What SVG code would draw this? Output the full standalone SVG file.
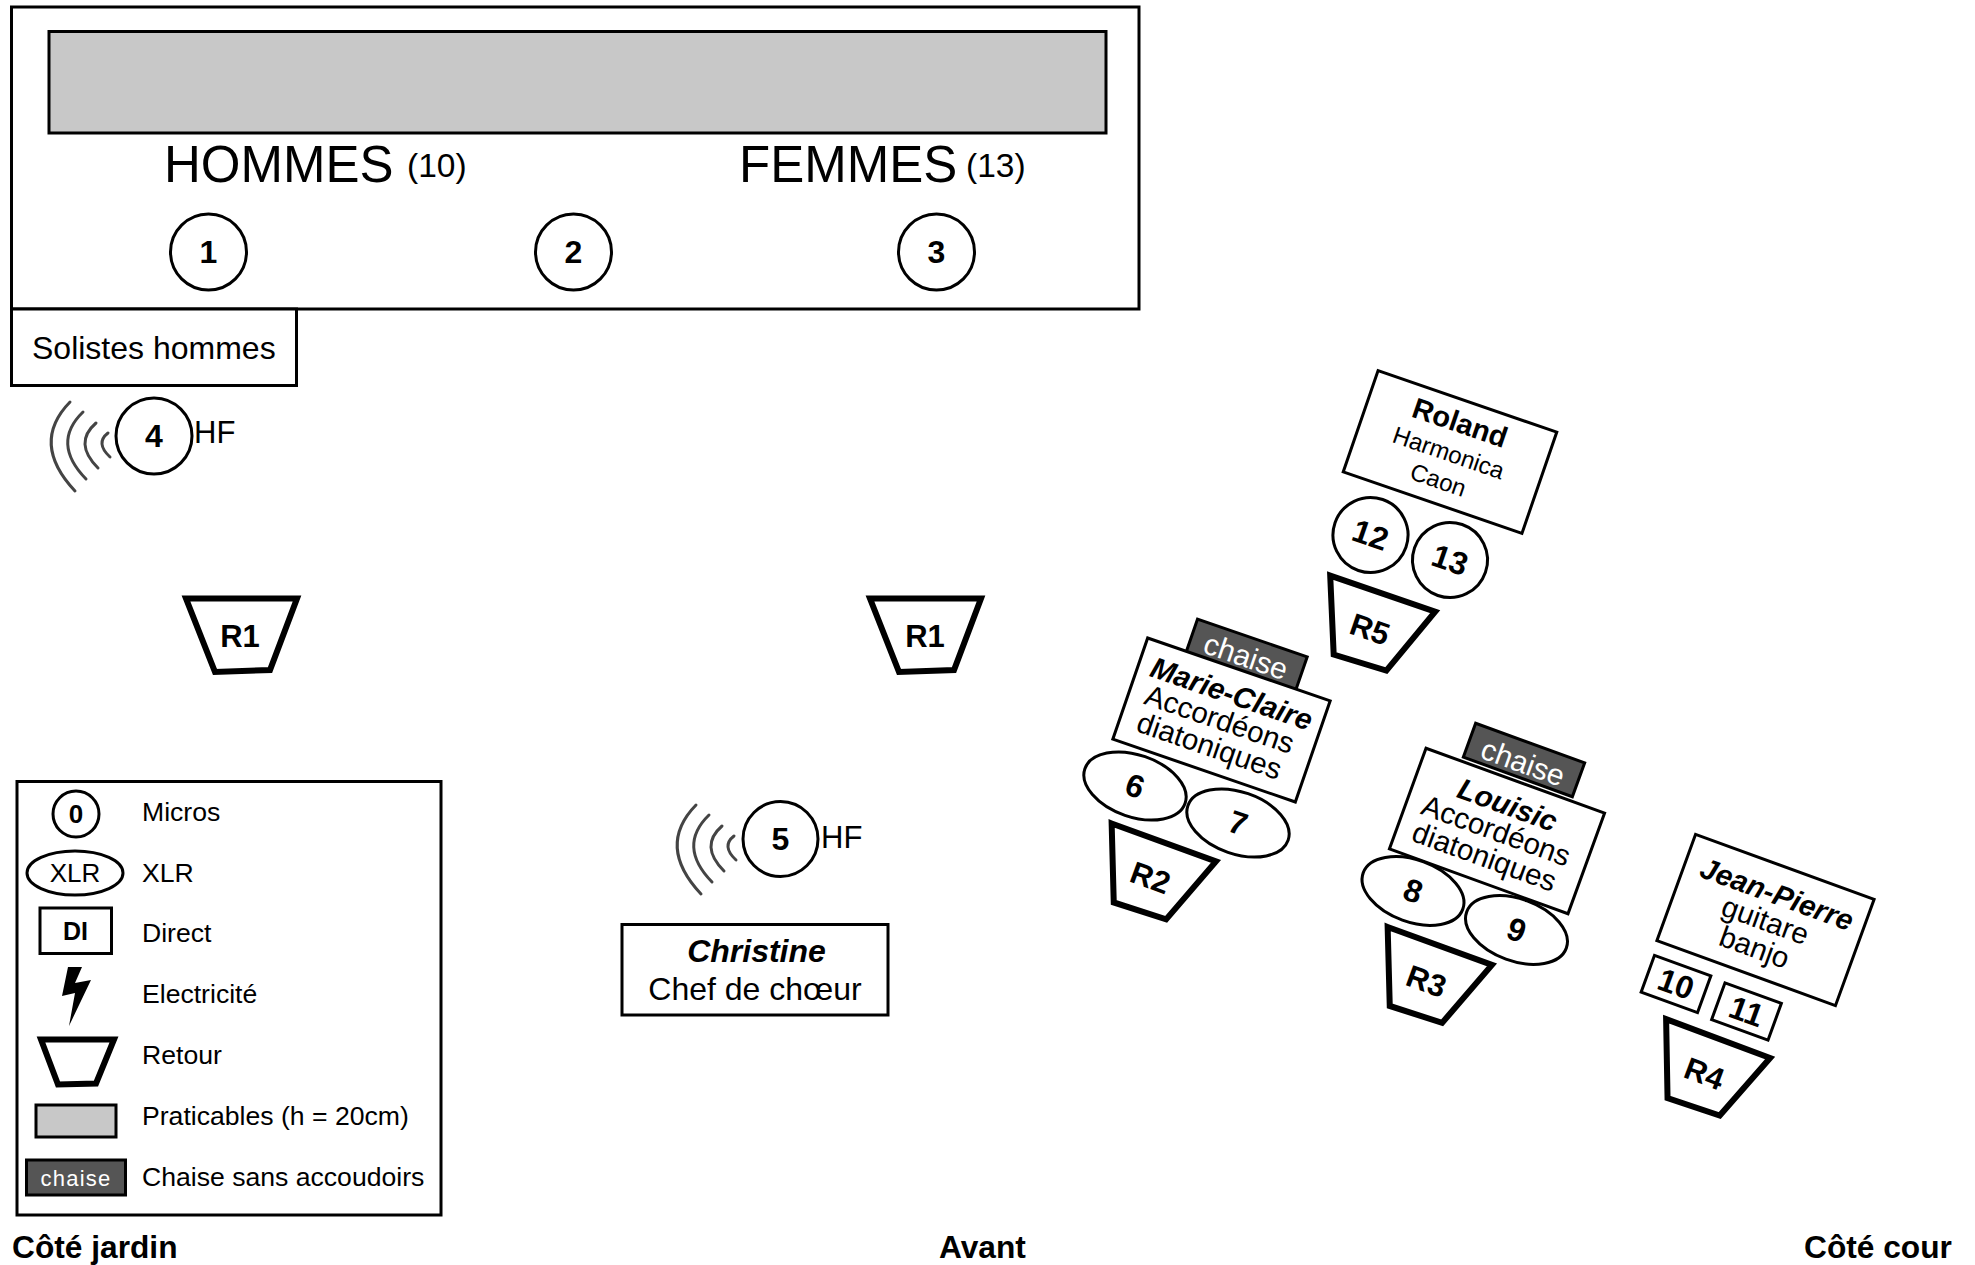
<svg xmlns="http://www.w3.org/2000/svg" xmlns:xlink="http://www.w3.org/1999/xlink" width="1975" height="1265" viewBox="0 0 1975 1265">
<style>
text{font-family:"Liberation Sans",Arial,sans-serif;fill:#000}
.n{font-size:32px;font-weight:bold;text-anchor:middle}
.rt{font-size:31px;font-weight:bold;text-anchor:middle}
.bi{font-size:29.500px;font-weight:bold;font-style:italic;text-anchor:middle}
.c{font-size:29.500px;text-anchor:middle}
.b24{font-size:24px;text-anchor:middle}
.l{font-size:26.600px}
.h{font-size:31px}
.foot{font-size:31.700px;font-weight:bold}
.s{fill:#fff;stroke:#000;stroke-width:3}
.g{fill:#c8c8c8;stroke:#000;stroke-width:3}
.d{fill:#555;stroke:#000;stroke-width:3}
.w{fill:#fff;font-size:30px;text-anchor:middle}
.r{fill:#fff;stroke:#000;stroke-width:6;stroke-linejoin:miter}
.a{fill:none;stroke:#444;stroke-width:3;stroke-linecap:round}
</style>
<defs>
<g id="waves">
<path class="a" d="M-84,-34Q-124,7 -79,55"/>
<path class="a" d="M-71,-24Q-103,7 -68,43"/>
<path class="a" d="M-58,-13Q-81,7 -56,32"/>
<path class="a" d="M-46,-3Q-59,7 -44,21"/>
</g>
<polygon id="ret" class="r" points="-55,-37.500 56,-37.500 29,34 -26,36"/>
</defs>

<g id="stage">
<rect class="s" x="11.500" y="7" width="1127.500" height="302"/>
<rect class="g" x="49" y="31.500" width="1057" height="101.500"/>
<text x="164" y="182" font-size="51">HOMMES</text>
<text x="407" y="176.500" font-size="33.500">(10)</text>
<text x="739" y="182" font-size="51">FEMMES</text>
<text x="966" y="176.500" font-size="33.500">(13)</text>
</g>
<g id="mic1"><circle class="s" cx="208.500" cy="252" r="38"/><text class="n" x="208.500" y="263">1</text></g>
<g id="mic2"><circle class="s" cx="573.500" cy="252" r="38"/><text class="n" x="573.500" y="263">2</text></g>
<g id="mic3"><circle class="s" cx="936.500" cy="252" r="38"/><text class="n" x="936.500" y="263">3</text></g>

<g id="solistes">
<rect class="s" x="11.500" y="309" width="285" height="76.500"/>
<text x="32" y="359" font-size="32">Solistes hommes</text>
</g>

<g id="mic4">
<use xlink:href="#waves" href="#waves" x="154" y="436"/>
<circle class="s" cx="154" cy="436" r="38"/>
<text class="n" x="154" y="447">4</text>
<text class="h" x="194" y="443">HF</text>
</g>

<g id="r1-left"><use xlink:href="#ret" href="#ret" x="241" y="636"/><text class="rt" x="240" y="647">R1</text></g>
<g id="r1-right"><use xlink:href="#ret" href="#ret" x="925" y="636"/><text class="rt" x="925" y="647">R1</text></g>

<g id="mic5">
<use xlink:href="#waves" href="#waves" x="780" y="839"/>
<circle class="s" cx="780.500" cy="839" r="37.500"/>
<text class="n" x="780.500" y="850">5</text>
<text class="h" x="821" y="848">HF</text>
</g>

<g id="christine">
<rect class="s" x="622" y="924.500" width="266" height="90.500"/>
<text x="756.500" y="962" font-size="32" font-weight="bold" font-style="italic" text-anchor="middle">Christine</text>
<text x="755" y="999.500" font-size="32" text-anchor="middle">Chef de chœur</text>
</g>

<g id="roland" transform="translate(1450 452) rotate(19)">
<rect class="s" x="-94.500" y="-53.500" width="189" height="107"/>
<text x="0" y="-21" font-size="29" font-weight="bold" text-anchor="middle">Roland</text>
<text class="b24" x="-1" y="9.500">Harmonica</text>
<text class="b24" x="-2" y="38.500">Caon</text>
</g>
<g id="mic12" transform="translate(1370.500 535) rotate(19)"><circle class="s" r="37.500"/><text class="n" y="11">12</text></g>
<g id="mic13" transform="translate(1450 560) rotate(19)"><circle class="s" r="37.500"/><text class="n" y="11">13</text></g>
<g id="r5" transform="translate(1370 629) rotate(19)"><use xlink:href="#ret" href="#ret"/><text class="rt" y="11">R5</text></g>

<g id="chaise-mc" transform="translate(1246.500 655) rotate(19)">
<rect class="d" x="-58" y="-18" width="116" height="36"/>
<text class="w" y="12">chaise</text>
</g>
<g id="marie-claire" transform="translate(1221.500 720) rotate(19)">
<rect class="s" x="-96.500" y="-53.500" width="193" height="107"/>
<text class="bi" x="1" y="-18">Marie-Claire</text>
<text class="c" x="-2" y="10">Accordéons</text>
<text class="c" x="-3" y="38.500">diatoniques</text>
</g>
<g id="xlr6" transform="translate(1135 786) rotate(19)"><ellipse class="s" rx="53" ry="31"/><text class="n" y="11">6</text></g>
<g id="xlr7" transform="translate(1238 823) rotate(19)"><ellipse class="s" rx="53" ry="31"/><text class="n" y="11">7</text></g>
<g id="r2" transform="translate(1150.500 877.500) rotate(20)"><use xlink:href="#ret" href="#ret"/><text class="rt" y="11">R2</text></g>

<g id="chaise-l" transform="translate(1524 760) rotate(20)">
<rect class="d" x="-58" y="-18" width="116" height="36"/>
<text class="w" y="13">chaise</text>
</g>
<g id="louisic" transform="translate(1497 831) rotate(20)">
<rect class="s" x="-95" y="-53.500" width="190" height="107"/>
<text class="bi" x="1" y="-18">Louisic</text>
<text class="c" x="-1" y="10">Accordéons</text>
<text class="c" x="-3" y="38.500">diatoniques</text>
</g>
<g id="xlr8" transform="translate(1413 891) rotate(20)"><ellipse class="s" rx="53" ry="31"/><text class="n" y="11">8</text></g>
<g id="xlr9" transform="translate(1516.500 930) rotate(20)"><ellipse class="s" rx="53" ry="31"/><text class="n" y="11">9</text></g>
<g id="r3" transform="translate(1426.500 981) rotate(20)"><use xlink:href="#ret" href="#ret"/><text class="rt" y="11">R3</text></g>

<g id="jean-pierre" transform="translate(1765.500 920) rotate(20)">
<rect class="s" x="-95" y="-56.500" width="190" height="113"/>
<text class="bi" x="2" y="-18">Jean-Pierre</text>
<text class="c" x="0" y="10.500">guitare</text>
<text class="c" x="-1" y="39.500">banjo</text>
</g>
<g id="di10" transform="translate(1676 984) rotate(20)"><rect class="s" x="-30" y="-19.500" width="60" height="39"/><text class="n" y="11">10</text></g>
<g id="di11" transform="translate(1746.500 1011.500) rotate(20)"><rect class="s" x="-30" y="-19.500" width="60" height="39"/><text class="n" y="11">11</text></g>
<g id="r4" transform="translate(1704.500 1073.500) rotate(20.500)"><use xlink:href="#ret" href="#ret"/><text class="rt" y="11">R4</text></g>

<g id="legend">
<rect class="s" x="17" y="781.500" width="424" height="433.500"/>
<circle class="s" cx="76" cy="814" r="23"/>
<text x="76" y="823" font-size="26" font-weight="bold" text-anchor="middle">0</text>
<text class="l" x="142" y="821">Micros</text>
<ellipse class="s" cx="75" cy="873" rx="48" ry="22"/>
<text x="75" y="882" font-size="26" text-anchor="middle">XLR</text>
<text class="l" x="142" y="882">XLR</text>
<rect class="s" x="40" y="908" width="71.500" height="45.500"/>
<text x="75.500" y="940" font-size="25" font-weight="bold" text-anchor="middle">DI</text>
<text class="l" x="142" y="942">Direct</text>
<polygon points="68,967 82,967 75,983 91,980 69,1026 75,993 62,996" fill="#000"/>
<text class="l" x="142" y="1003">Electricité</text>
<polygon points="41,1039.500 114,1039.500 96,1083.500 58,1084.500" class="r"/>
<text class="l" x="142" y="1064">Retour</text>
<rect class="g" x="36" y="1105" width="80" height="32"/>
<text class="l" x="142" y="1125">Praticables (h = 20cm)</text>
<rect class="d" x="26.500" y="1160" width="99" height="35"/>
<text x="76" y="1186" font-size="22" letter-spacing="1.200" text-anchor="middle" style="fill:#fff">chaise</text>
<text class="l" x="142" y="1186">Chaise sans accoudoirs</text>
</g>

<g id="labels">
<text class="foot" x="12" y="1258">Côté jardin</text>
<text class="foot" x="939" y="1258">Avant</text>
<text class="foot" x="1804" y="1258">Côté cour</text>
</g>
</svg>
